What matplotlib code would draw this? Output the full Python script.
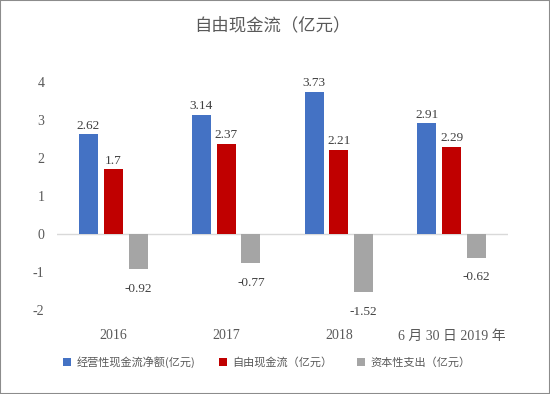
import numpy as np
import matplotlib.pyplot as plt
from matplotlib.patches import Rectangle

plt.rcParams['font.family'] = ['Liberation Serif', 'Noto Sans CJK SC', 'DejaVu Sans']

# ── Data ───────────────────────────────────────────────────────────────────
categories = ["2016", "2017", "2018", "6 月 30 日 2019 年"]
operating_cf = [2.62, 3.14, 3.73, 2.91]
free_cf = [1.7, 2.37, 2.21, 2.29]
capex = [-0.92, -0.77, -1.52, -0.62]
series_names = ["经营性现金流净额(亿元)", "自由现金流（亿元）", "资本性支出（亿元）"]
y_ticks = [-2, -1, 0, 1, 2, 3, 4]

colors = ["#4472C4", "#C00000", "#A5A5A5"]
text_col = "#595959"

# ── Plot ───────────────────────────────────────────────────────────────────
fig = plt.figure(figsize=(5.5, 3.94), dpi=100)
ax = fig.add_axes([0.1036, 0.2132, 0.8200, 0.5787])

x = np.arange(len(categories))
step, width = 0.22, 0.168
for i, (vals, col, name) in enumerate(zip([operating_cf, free_cf, capex], colors, series_names)):
    pos = x + (i - 1) * step
    bars = ax.bar(pos, vals, width=width, color=col, label=name, zorder=2)
    for xb, v in zip(pos, vals):
        if v >= 0:
            ax.annotate(f"{v:g}", (xb, v), xytext=(0, 2), textcoords="offset points",
                        ha="center", va="bottom", fontsize=9.5, color="#404040")
        else:
            ax.annotate(f"{v:g}", (xb, v), xytext=(0, -10), textcoords="offset points",
                        ha="center", va="top", fontsize=9.5, color="#404040")

ax.axhline(0, color="#D9D9D9", lw=1, zorder=1)
ax.set_xlim(-0.5, len(categories) - 0.5)
ax.set_ylim(-2, 4)
ax.set_yticks(y_ticks)
ax.set_yticklabels([str(t) for t in y_ticks], fontsize=10, color=text_col)
ax.tick_params(axis="y", length=0, pad=9)
ax.set_xticks(x)
ax.set_xticklabels(categories, fontsize=10, color=text_col)
ax.tick_params(axis="x", length=0, pad=14)
for s in ax.spines.values():
    s.set_visible(False)

fig.text(0.495, 0.935, "自由现金流（亿元）", ha="center", va="center", fontsize=12.5,
         color=text_col, family=['Noto Sans CJK SC', 'DejaVu Sans'])

leg = fig.legend(loc="center", bbox_to_anchor=(0.485, 0.081), ncol=3, frameon=False,
                 fontsize=8, handlelength=0.7, handleheight=0.7, columnspacing=2.2,
                 handletextpad=0.5, prop={'family': ['Noto Sans CJK SC', 'DejaVu Sans'], 'size': 8})
for t in leg.get_texts():
    t.set_color(text_col)

fig.patches.append(Rectangle((0, 0), 1, 1, transform=fig.transFigure, fill=False,
                             edgecolor="#8C8C8C", lw=1.5))

plt.savefig("out.png", dpi=100)
